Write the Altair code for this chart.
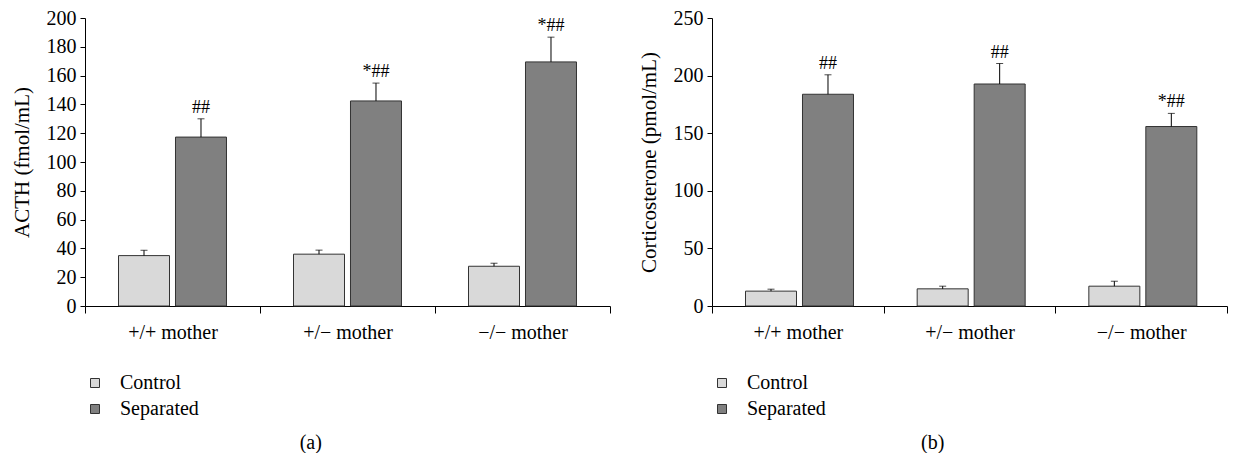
import altair as alt
import pandas as pd

FONT = "Liberation Serif"

categories = ["+/+ mother", "+/\u2212 mother", "\u2212/\u2212 mother"]
groups = ["Control", "Separated"]
group_colors = ["#d9d9d9", "#808080"]

# Panel (a): ACTH (fmol/mL)
acth_control = [35.0, 36.0, 27.6]
acth_control_top = [38.7, 38.8, 29.7]
acth_separated = [117.3, 142.4, 169.5]
acth_separated_top = [130.0, 154.8, 186.7]
acth_marks = ["##", "*##", "*##"]
acth_ticks = [0, 20, 40, 60, 80, 100, 120, 140, 160, 180, 200]

# Panel (b): Corticosterone (pmol/mL)
cort_control = [12.9, 14.9, 17.2]
cort_control_top = [14.6, 17.2, 21.5]
cort_separated = [183.8, 192.7, 155.8]
cort_separated_top = [200.7, 210.5, 167.2]
cort_marks = ["##", "##", "*##"]
cort_ticks = [0, 50, 100, 150, 200, 250]


def make_df(ctrl, ctrl_top, sep, sep_top, marks):
    rows = []
    for i, c in enumerate(categories):
        rows.append({"category": c, "group": "Control", "value": ctrl[i], "top": ctrl_top[i], "mark": ""})
        rows.append({"category": c, "group": "Separated", "value": sep[i], "top": sep_top[i], "mark": marks[i]})
    return pd.DataFrame(rows)


def panel(df, ticks, ytitle, caption, width):
    base = alt.Chart(df).encode(
        x=alt.X(
            "category:N",
            sort=categories,
            scale=alt.Scale(paddingInner=0, paddingOuter=0),
            axis=alt.Axis(title=None, labelAngle=0, tickBand="extent", tickSize=7,
                          labelPadding=9, labelFontSize=20, labelFont=FONT),
        ),
        xOffset=alt.XOffset("group:N", sort=groups,
                            scale=alt.Scale(paddingInner=0.105, paddingOuter=0.588)),
    )
    yscale = alt.Scale(domain=[ticks[0], ticks[-1]], nice=False)
    yaxis = alt.Axis(values=ticks, title=ytitle, tickSize=5, labelPadding=4,
                     titlePadding=14, labelFontSize=20, titleFontSize=21,
                     labelFont=FONT, titleFont=FONT, labelOverlap=False)
    bars = base.mark_bar(stroke="#333333", strokeWidth=1).encode(
        y=alt.Y("value:Q", scale=yscale, axis=yaxis, title=ytitle),
        color=alt.Color("group:N", sort=groups,
                        scale=alt.Scale(domain=groups, range=group_colors),
                        legend=alt.Legend(title=None, orient="none", legendX=0, legendY=355,
                                          direction="vertical", symbolType="square",
                                          symbolSize=81, symbolStrokeColor="#333333",
                                          symbolStrokeWidth=1, labelFont=FONT,
                                          labelFontSize=20, labelColor="black",
                                          labelOffset=15, rowPadding=6, padding=0)),
    )
    err = base.mark_rule(color="black", strokeWidth=1).encode(
        y=alt.Y("value:Q", scale=yscale, axis=yaxis, title=ytitle), y2="top:Q")
    caps = base.mark_tick(color="black", thickness=1, size=7).encode(
        y=alt.Y("top:Q", scale=yscale, axis=yaxis, title=ytitle))
    txt = base.mark_text(font=FONT, fontSize=18, baseline="alphabetic", dy=-6,
                         color="black").encode(
        y=alt.Y("top:Q", scale=yscale, axis=yaxis, title=ytitle), text="mark:N")
    return alt.layer(bars, err, caps, txt).properties(
        width=width, height=288,
        title=alt.TitleParams(caption, orient="bottom", frame="bounds", anchor="middle",
                              font=FONT, fontSize=20, fontWeight="normal", color="black",
                              offset=14),
    )


pa = panel(make_df(acth_control, acth_control_top, acth_separated, acth_separated_top, acth_marks),
           acth_ticks, "ACTH (fmol/mL)", "(a)", 525)
pb = panel(make_df(cort_control, cort_control_top, cort_separated, cort_separated_top, cort_marks),
           cort_ticks, "Corticosterone (pmol/mL)", "(b)", 515)

chart = (
    alt.hconcat(pa, pb, spacing=27)
    .resolve_scale(color="independent", y="independent")
    .properties(padding={"left": 3, "top": 0, "right": 0, "bottom": 0})
    .configure(font=FONT)
    .configure_view(stroke=None)
    .configure_axis(grid=False, domainColor="black", tickColor="black", labelColor="black",
                    titleColor="black", labelFont=FONT, titleFont=FONT,
                    titleFontWeight="normal", domainWidth=1, tickWidth=1)
    .configure_legend(labelFont=FONT)
)

chart.save("out.html", embed_options={"renderer": "svg", "actions": False})
